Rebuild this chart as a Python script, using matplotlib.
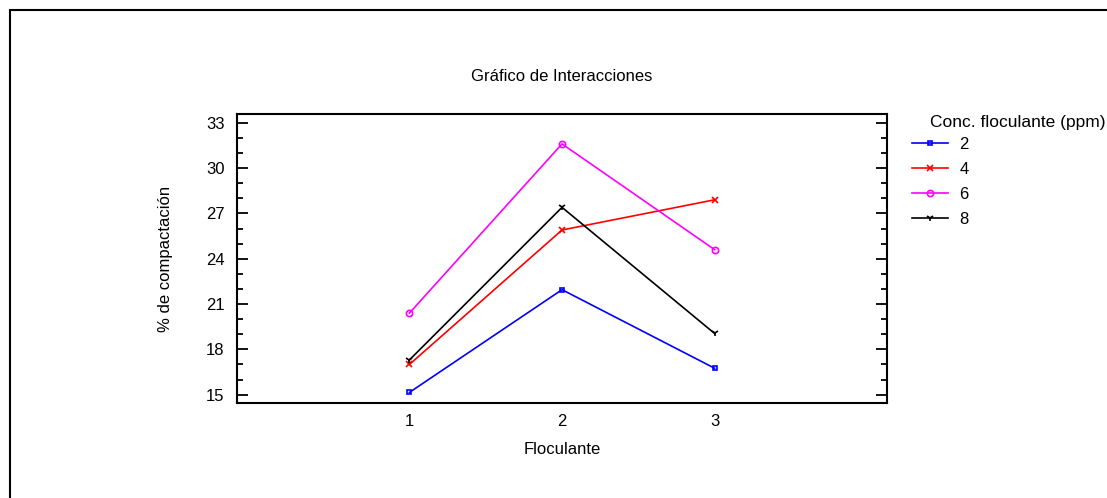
import matplotlib
matplotlib.use("Agg")
import matplotlib.pyplot as plt
from matplotlib.patches import Rectangle
from matplotlib.ticker import MultipleLocator

plt.rcParams['font.family'] = ['Liberation Sans', 'DejaVu Sans']

# Data
floculante = [1, 2, 3]
conc_labels = ['2', '4', '6', '8']
conc_2 = [15.15, 21.95, 16.75]
conc_4 = [17.0, 25.9, 27.9]
conc_6 = [20.4, 31.6, 24.6]
conc_8 = [17.3, 27.4, 19.05]
yticks = [15, 18, 21, 24, 27, 30, 33]

series = [conc_2, conc_4, conc_6, conc_8]
colors = ['#0000ff', '#ff0000', '#ff00ff', '#000000']
markers = ['s', 'x', 'o', '1']
msize = [3.5, 5, 4.5, 5]

fig = plt.figure(figsize=(11.07, 4.98), dpi=100)
ax = fig.add_axes([0.2141, 0.1908, 0.5872, 0.5803])

for vals, lab, c, m, ms in zip(series, conc_labels, colors, markers, msize):
    ax.plot(floculante, vals, color=c, lw=1.2, marker=m, markersize=ms,
            markerfacecolor='none', markeredgecolor=c, markeredgewidth=1.2,
            label=lab)

ax.set_xlim(-0.13, 4.13)
ax.set_ylim(14.45, 33.58)
ax.set_xticks(floculante)
ax.set_yticks(yticks)
ax.yaxis.set_minor_locator(MultipleLocator(1))
ax.tick_params(axis='x', length=0, pad=8, labelsize=12)
ax.tick_params(axis='y', which='major', direction='in', length=8, width=1.3,
               right=True, pad=9, labelsize=12)
ax.tick_params(axis='y', which='minor', direction='in', length=4, width=1.3,
               right=True)
for s in ax.spines.values():
    s.set_linewidth(1.5)

ax.set_xlabel('Floculante', fontsize=12, labelpad=9)
ax.set_ylabel('% de compactación', fontsize=12, labelpad=24)
ax.set_title('Gráfico de Interacciones', fontsize=12, pad=24)

leg = ax.legend(loc='upper left', bbox_to_anchor=(912 / 1107, 1 - 137 / 498),
                bbox_transform=fig.transFigure, frameon=False, fontsize=12,
                handlelength=2.15, handletextpad=0.7, labelspacing=0.6,
                borderpad=0, borderaxespad=0)
fig.text(930 / 1107, 1 - 122 / 498, 'Conc. floculante (ppm)', fontsize=12.5,
         va='center', ha='left')

# figure border (right and bottom edges fall outside the image)
fig.add_artist(Rectangle((10 / 1107, -0.1), 1.2, 1 - 10 / 498 + 0.1,
                         transform=fig.transFigure, fill=False,
                         edgecolor='black', lw=1.5))

fig.savefig('out.png', dpi=100)
